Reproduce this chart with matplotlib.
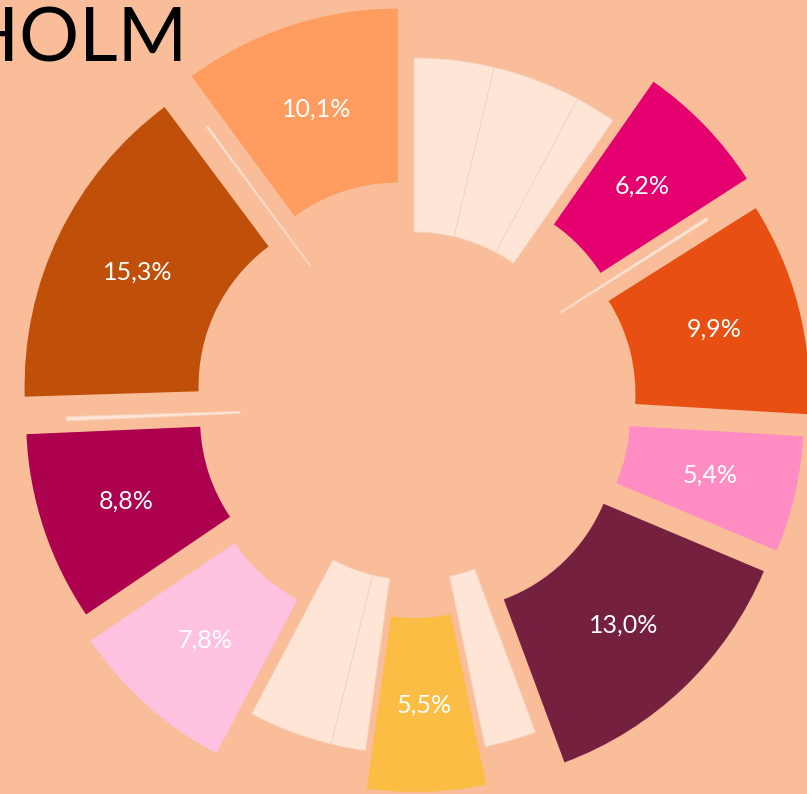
import matplotlib
matplotlib.use("Agg")
import matplotlib.pyplot as plt
import math

# ---- data (clockwise from 12 o'clock) ----
values = [3.7, 4.1, 1.9, 6.2, 0.15, 9.9, 5.4, 13.0, 2.4, 5.5, 1.6, 3.9, 7.8, 8.8, 0.2, 15.3, 0.1, 10.1]
highlighted = [False, False, False, True, False, True, True, True, False, True, False, False, True, True, False, True, False, True]
colors = ['#FFE5D6', '#FFE5D6', '#FFE5D6', '#E4006F', '#FFE5D6', '#E84F12', '#FF8DC3', '#76203F',
          '#FFE5D6', '#FBBD44', '#FFE5D6', '#FFE5D6', '#FFC2E0', '#AD004F', '#FFE5D6', '#C04F0A',
          '#FFE5D6', '#FF9D60']
# radial offset (pixels) of each slice
explode = [0, 0, 0, 56, 0, 49, 43, 42, 0, 38, 0, 0, 53, 42, 0, 46, 0, 52]
title = "STOCKHOLM"

BG = '#F9BE99'
W, H = 807, 794
fig = plt.figure(figsize=(W / 100, H / 100), dpi=100, facecolor=BG)
ax = fig.add_axes([0, 0, 1, 1])
ax.set_facecolor(BG)

cx, cy = 414, H - 406
R, ring = 348, 174

wedges, _ = ax.pie(values, colors=colors, startangle=90, counterclock=False,
                   explode=explode, center=(cx, cy), radius=R, normalize=True,
                   wedgeprops=dict(width=ring, linewidth=0))

for w, h in zip(wedges, highlighted):
    if not h:
        w.set_edgecolor('#F6D2C0')
        w.set_linewidth(0.6)

ax.set_xlim(0, W)
ax.set_ylim(0, H)
ax.set_aspect('equal')
ax.axis('off')

lab_r = R - ring / 2
for w, v, h in zip(wedges, values, highlighted):
    if not h:
        continue
    th = math.radians((w.theta1 + w.theta2) / 2)
    x0, y0 = w.center
    ax.text(x0 + lab_r * math.cos(th), y0 + lab_r * math.sin(th),
            f"{v:.1f}".replace('.', ',') + "%", color='white', fontsize=18,
            family=['Lato', 'DejaVu Sans'], weight='normal', ha='center', va='center')

fig.text(188 / W, 1 - 61 / H, title, color='black', fontsize=54,
         family=['Lato', 'DejaVu Sans'], weight='normal', ha='right', va='baseline')

fig.savefig('out.png', dpi=100, facecolor=BG)
